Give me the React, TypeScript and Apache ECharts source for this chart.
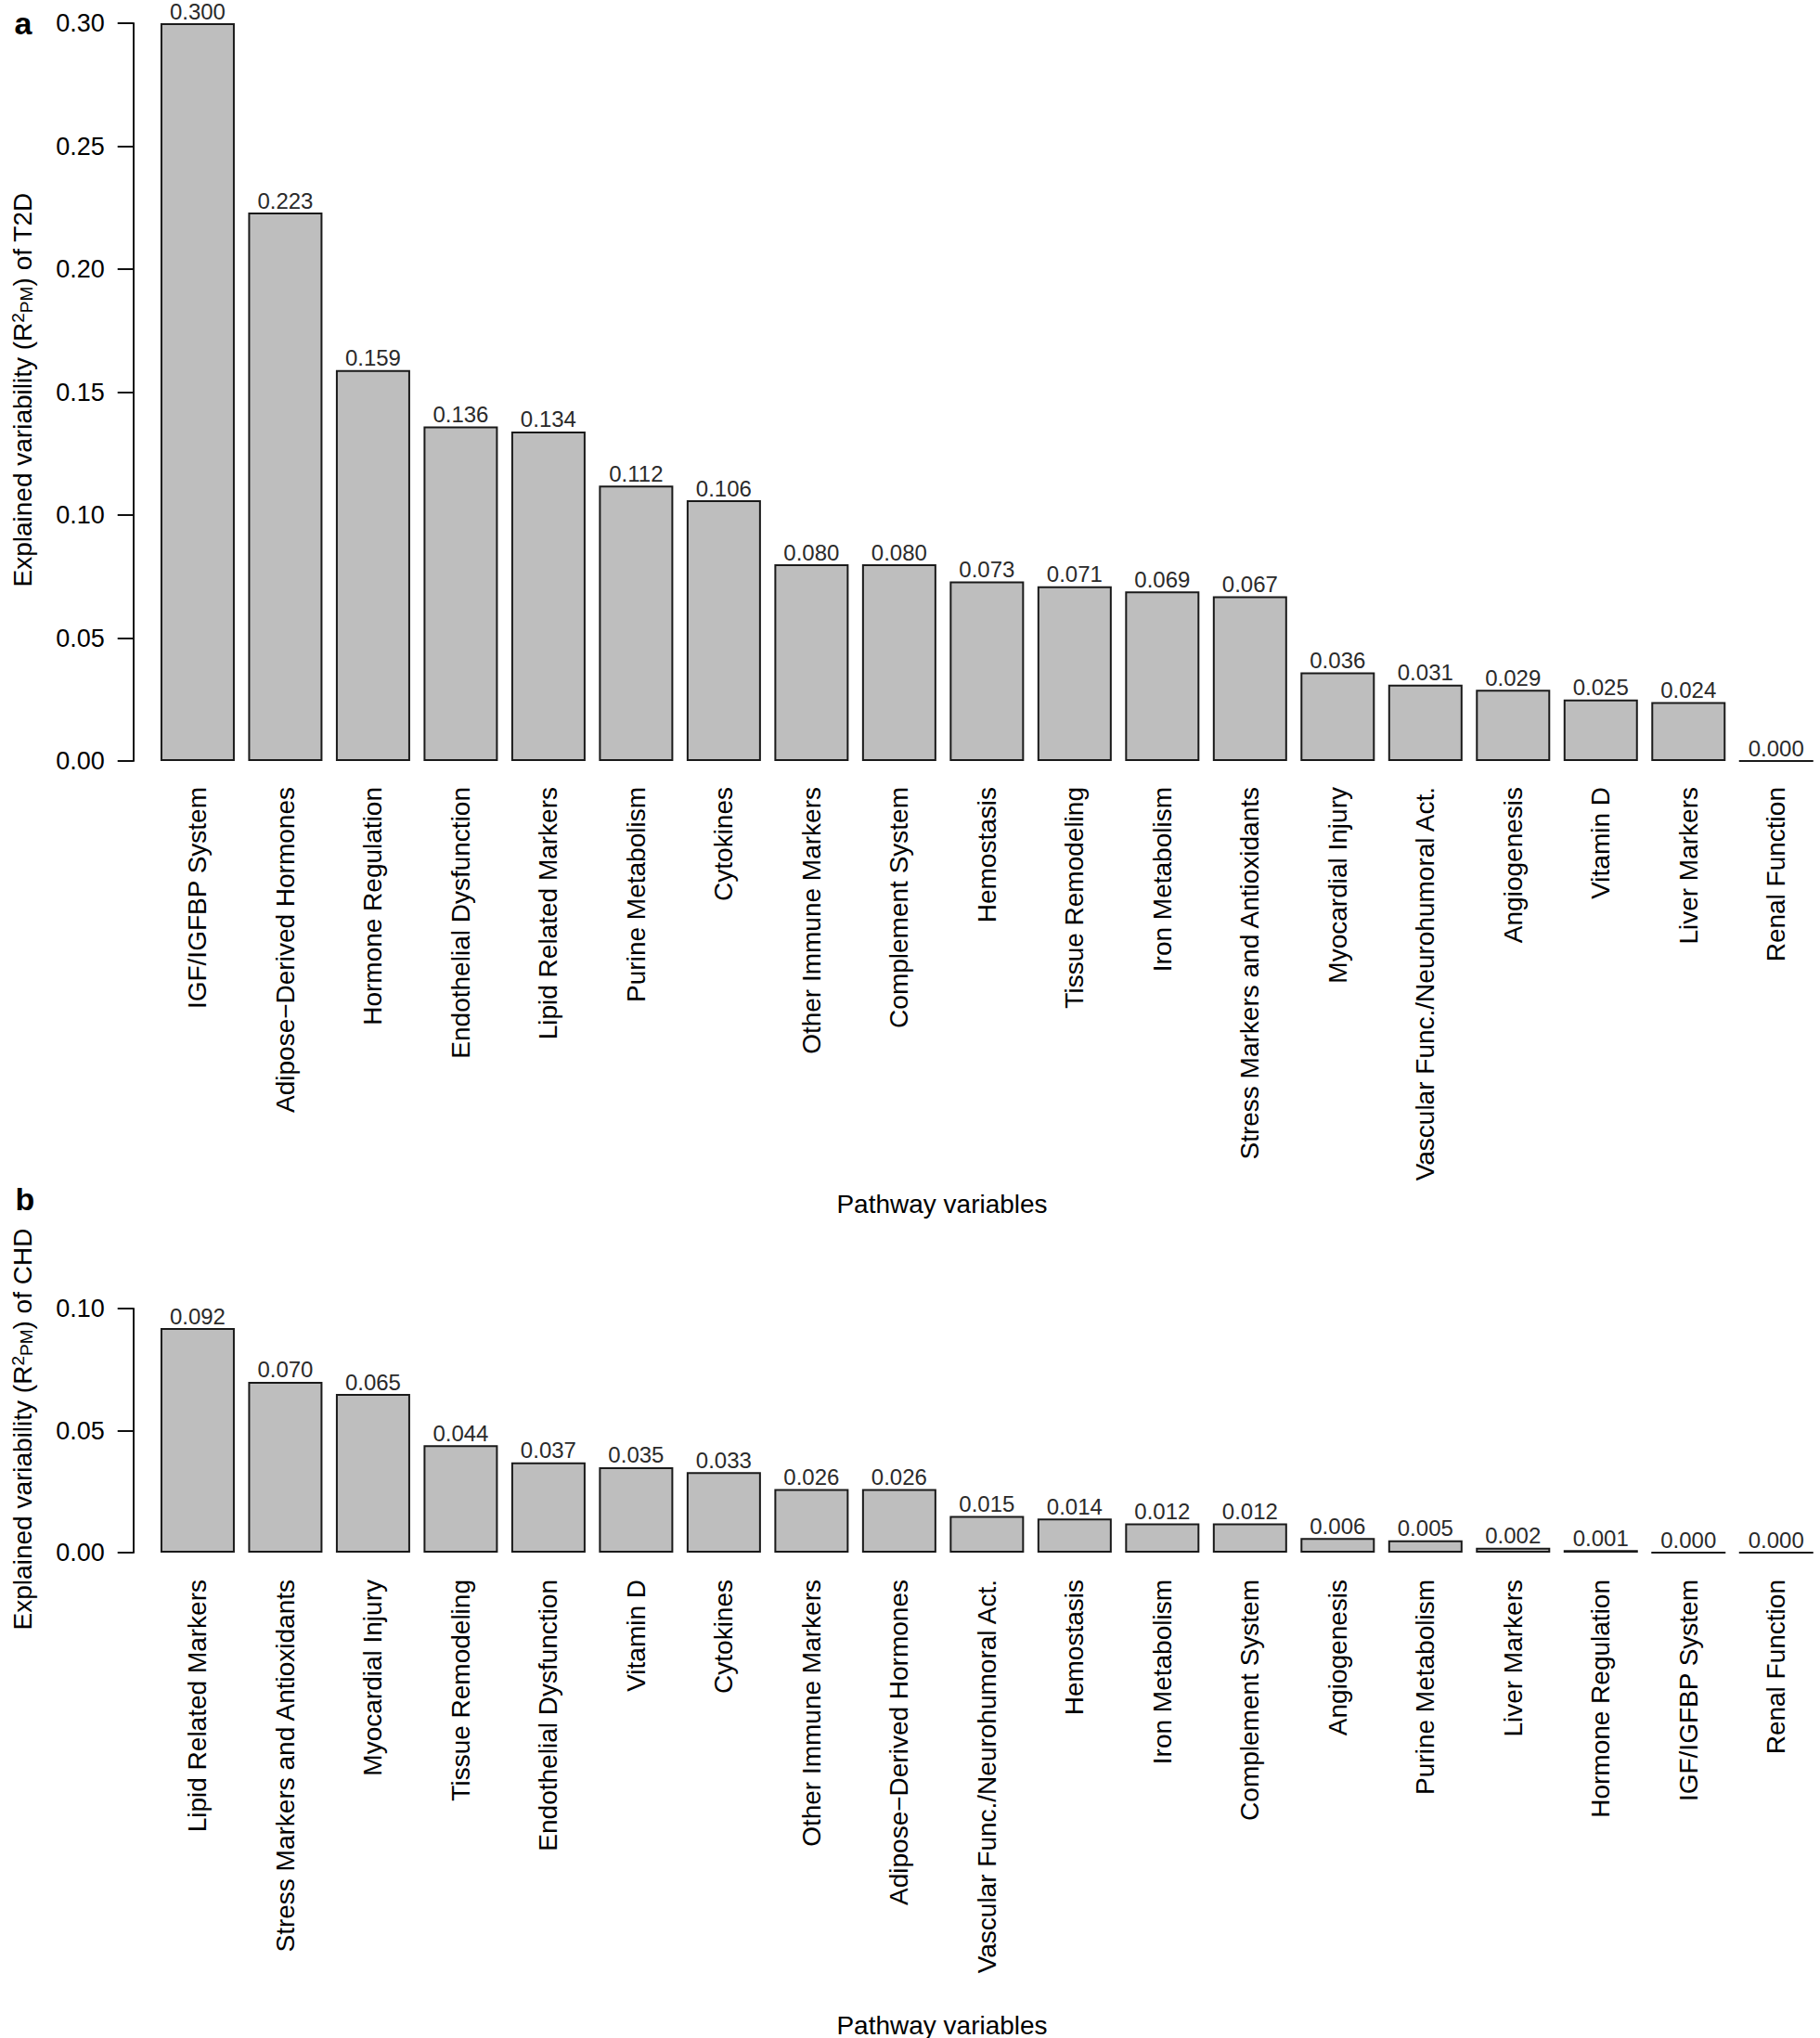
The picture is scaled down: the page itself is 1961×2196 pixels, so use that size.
import React, { useEffect, useRef } from "react";
import * as echarts from "echarts";

const catsA = [
  "IGF/IGFBP System", "Adipose\u2212Derived Hormones", "Hormone Regulation", "Endothelial Dysfunction",
  "Lipid Related Markers", "Purine Metabolism", "Cytokines", "Other Immune Markers",
  "Complement System", "Hemostasis", "Tissue Remodeling", "Iron Metabolism",
  "Stress Markers and Antioxidants", "Myocardial Injury", "Vascular Func./Neurohumoral Act.",
  "Angiogenesis", "Vitamin D", "Liver Markers", "Renal Function",
];
const valsA = [0.300, 0.223, 0.159, 0.136, 0.134, 0.112, 0.106, 0.080, 0.080, 0.073, 0.071, 0.069, 0.067, 0.036, 0.031, 0.029, 0.025, 0.024, 0.000];

const catsB = [
  "Lipid Related Markers", "Stress Markers and Antioxidants", "Myocardial Injury", "Tissue Remodeling",
  "Endothelial Dysfunction", "Vitamin D", "Cytokines", "Other Immune Markers",
  "Adipose\u2212Derived Hormones", "Vascular Func./Neurohumoral Act.", "Hemostasis", "Iron Metabolism",
  "Complement System", "Angiogenesis", "Purine Metabolism", "Liver Markers",
  "Hormone Regulation", "IGF/IGFBP System", "Renal Function",
];
const valsB = [0.092, 0.070, 0.065, 0.044, 0.037, 0.035, 0.033, 0.026, 0.026, 0.015, 0.014, 0.012, 0.012, 0.006, 0.005, 0.002, 0.001, 0.000, 0.000];

const yMaxA = 0.30;
const yMaxB = 0.10;
const yStep = 0.05;
const xTitle = "Pathway variables";

const FONT = "'Liberation Sans', Arial, Helvetica, sans-serif";

export default function App() {
  const ref = useRef<HTMLDivElement>(null);
  useEffect(() => {
    if (!ref.current) return;
    const chart = echarts.init(ref.current, null, { renderer: "svg" });
    const yAxisCommon = (max: number, gi: number) => ({
      type: "value",
      gridIndex: gi,
      min: 0,
      max,
      interval: yStep,
      offset: 22,
      axisLine: { show: true, lineStyle: { color: "#111", width: 2 } },
      axisTick: { show: true, length: 17, lineStyle: { color: "#111", width: 2 } },
      splitLine: { show: false },
      axisLabel: {
        margin: 31,
        fontSize: 27,
        fontFamily: FONT,
        color: "#000",
        formatter: (v: number) => v.toFixed(2),
      },
    });
    const xAxisCommon = (cats: string[], gi: number, margin: number) => ({
      type: "category",
      gridIndex: gi,
      data: cats,
      axisLine: { show: false },
      axisTick: { show: false },
      axisLabel: {
        rotate: 90,
        interval: 0,
        margin,
        fontSize: 28,
        fontFamily: FONT,
        color: "#000",
      },
    });
    const barCommon = (vals: number[], i: number) => ({
      type: "bar",
      xAxisIndex: i,
      yAxisIndex: i,
      data: vals,
      barWidth: 80,
      itemStyle: { color: "#bebebe", borderColor: "#1a1a1a", borderWidth: 2 },
      label: {
        show: true,
        position: "top",
        distance: 3,
        fontSize: 24,
        lineHeight: 20,
        fontFamily: FONT,
        color: "#2a2a2a",
        formatter: (p: any) => Number(p.value).toFixed(3),
      },
    });
    const yTitle = (x: number, y: number, tail: string) => ({
      type: "text",
      x,
      y,
      rotation: Math.PI / 2,
      style: {
        text: "Explained variability (R{sup|2}{sub|PM}) of " + tail,
        font: `28px ${FONT}`,
        fill: "#000",
        align: "center",
        verticalAlign: "middle",
        rich: {
          sup: { fontSize: 19, fontFamily: FONT, verticalAlign: "top", lineHeight: 19, fill: "#000" },
          sub: { fontSize: 19, fontFamily: FONT, verticalAlign: "bottom", lineHeight: 19, fill: "#000" },
        },
      },
    });
    const plain = (x: number, y: number, text: string, size: number, bold = false) => ({
      type: "text",
      x,
      y,
      style: {
        text,
        font: `${bold ? "bold " : ""}${size}px ${FONT}`,
        fill: "#000",
        align: "center",
        verticalAlign: "middle",
      },
    });
    chart.setOption({
      animation: false,
      backgroundColor: "#fff",
      grid: [
        { left: 165.7, top: 25, width: 1798, height: 795 },
        { left: 165.7, top: 1410, width: 1798, height: 263 },
      ],
      xAxis: [xAxisCommon(catsA, 0, 28), xAxisCommon(catsB, 1, 29)],
      yAxis: [yAxisCommon(yMaxA, 0), yAxisCommon(yMaxB, 1)],
      series: [barCommon(valsA, 0), barCommon(valsB, 1)],
      graphic: [
        plain(25, 25, "a", 34, true),
        plain(27, 1292, "b", 34, true),
        yTitle(24, 420, "T2D"),
        yTitle(24, 1540, "CHD"),
        plain(1015, 1297, xTitle, 28),
        plain(1015, 2182, xTitle, 28),
      ],
    });
    return () => chart.dispose();
  }, []);
  return (
    <div
      ref={ref}
      style={{ position: "absolute", left: 0, top: 0, width: 1961, height: 2196, background: "#fff" }}
    />
  );
}
